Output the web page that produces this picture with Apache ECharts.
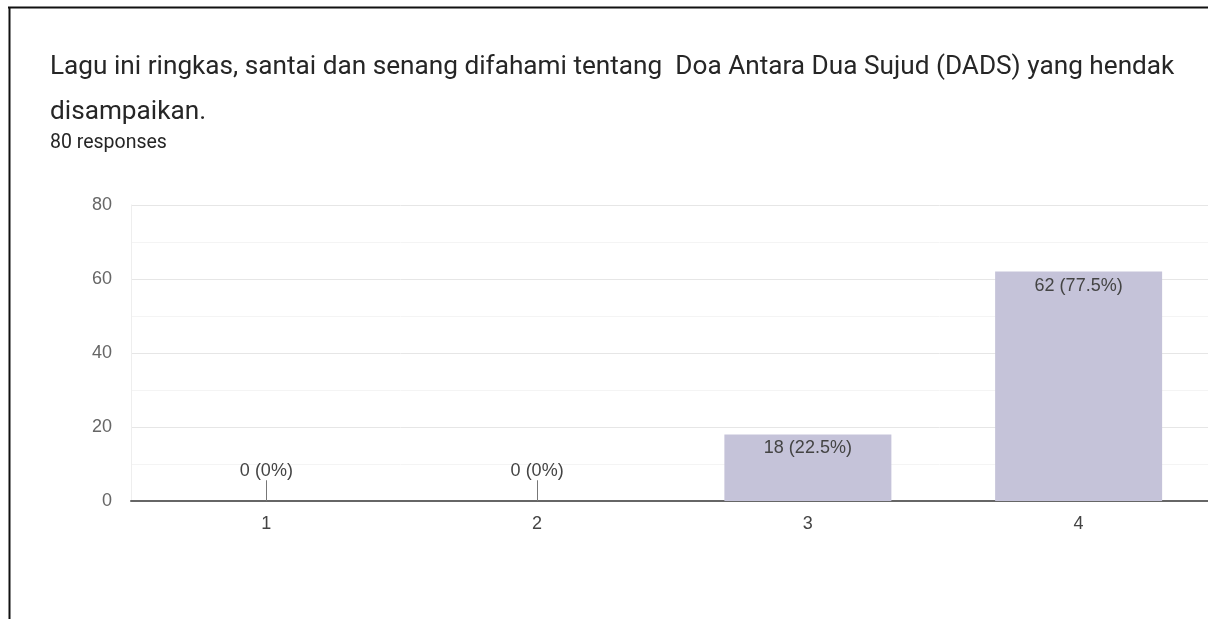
<!DOCTYPE html>
<html lang="en">
<head>
  <meta charset="UTF-8">
  <script src="https://cdn.jsdelivr.net/npm/echarts@6/dist/echarts.min.js"></script>
  <title>DADS responses</title>
  <style>
    html, body { margin: 0; padding: 0; background: #fff; }
    #chart { width: 1208px; height: 619px; }
  </style>
</head>
<body>
  <div id="chart"></div>
  <script>
    // data
    var titleText = 'Lagu ini ringkas, santai dan senang difahami tentang  Doa Antara Dua Sujud (DADS) yang hendak\ndisampaikan.';
    var subText = '80 responses';
    var categories = ['1', '2', '3', '4'];
    var counts = [0, 0, 18, 62];
    var yTicks = [0, 20, 40, 60, 80];

    var total = counts.reduce(function (a, b) { return a + b; }, 0);

    function labelFor(v) {
      var pct = total ? Math.round(v / total * 1000) / 10 : 0;
      return v + ' (' + pct + '%)';
    }

    // zero bars get their label lifted with a little stem, like Google Forms
    var barData = counts.map(function (v) {
      if (v === 0) {
        return { value: v, label: { position: 'top', distance: 21 } };
      }
      return { value: v };
    });
    var stems = [];
    counts.forEach(function (v, i) {
      if (v === 0) stems.push([{ coord: [categories[i], 0] }, { coord: [categories[i], 5.6] }]);
    });

    var chartFont = '"Liberation Sans", Arial, sans-serif';

    var chart = echarts.init(document.getElementById('chart'));
    var option = {
      animation: false,
      textStyle: { fontFamily: chartFont },
      title: {
        text: titleText,
        subtext: subText,
        left: 50,
        top: 45,
        itemGap: 0,
        padding: 0,
        textStyle: { fontSize: 26.2, fontWeight: 'normal', color: '#262626', lineHeight: 45, fontFamily: 'Roboto' },
        subtextStyle: { fontSize: 19.5, color: '#262626', lineHeight: 16, fontFamily: 'Roboto' }
      },
      graphic: [
        { type: 'line', shape: { x1: 8, y1: 7.5, x2: 1208, y2: 7.5 }, style: { stroke: '#111', lineWidth: 2 } },
        { type: 'line', shape: { x1: 9.5, y1: 7, x2: 9.5, y2: 619 }, style: { stroke: '#111', lineWidth: 2 } }
      ],
      grid: { left: 131, width: 1083, top: 205, bottom: 118, outerBoundsMode: 'none' },
      xAxis: {
        type: 'category',
        data: categories,
        axisTick: { show: false },
        axisLine: { lineStyle: { color: '#666', width: 2 } },
        axisLabel: { color: '#444', fontSize: 18, margin: 14 }
      },
      yAxis: {
        type: 'value',
        min: yTicks[0],
        max: yTicks[yTicks.length - 1],
        interval: 20,
        axisLine: { show: true, lineStyle: { color: '#eeeeee', width: 1 } },
        axisLabel: { color: '#666', fontSize: 18, margin: 19 },
        splitLine: { lineStyle: { color: '#e6e6e6', width: 1 } },
        minorTick: { show: false, splitNumber: 2 },
        minorSplitLine: { show: true, lineStyle: { color: '#f4f4f4', width: 1 } }
      },
      series: [{
        type: 'bar',
        data: barData,
        barWidth: 167,
        itemStyle: { color: '#c5c3d9' },
        label: {
          show: true,
          position: 'insideTop',
          distance: 5,
          color: '#444',
          fontSize: 18,
          fontFamily: chartFont,
          formatter: function (p) { return labelFor(p.value); }
        },
        markLine: {
          silent: true,
          symbol: 'none',
          label: { show: false },
          lineStyle: { color: '#777', width: 1, type: 'solid' },
          data: stems
        }
      }]
    };
    chart.setOption(option);
  </script>
</body>
</html>
